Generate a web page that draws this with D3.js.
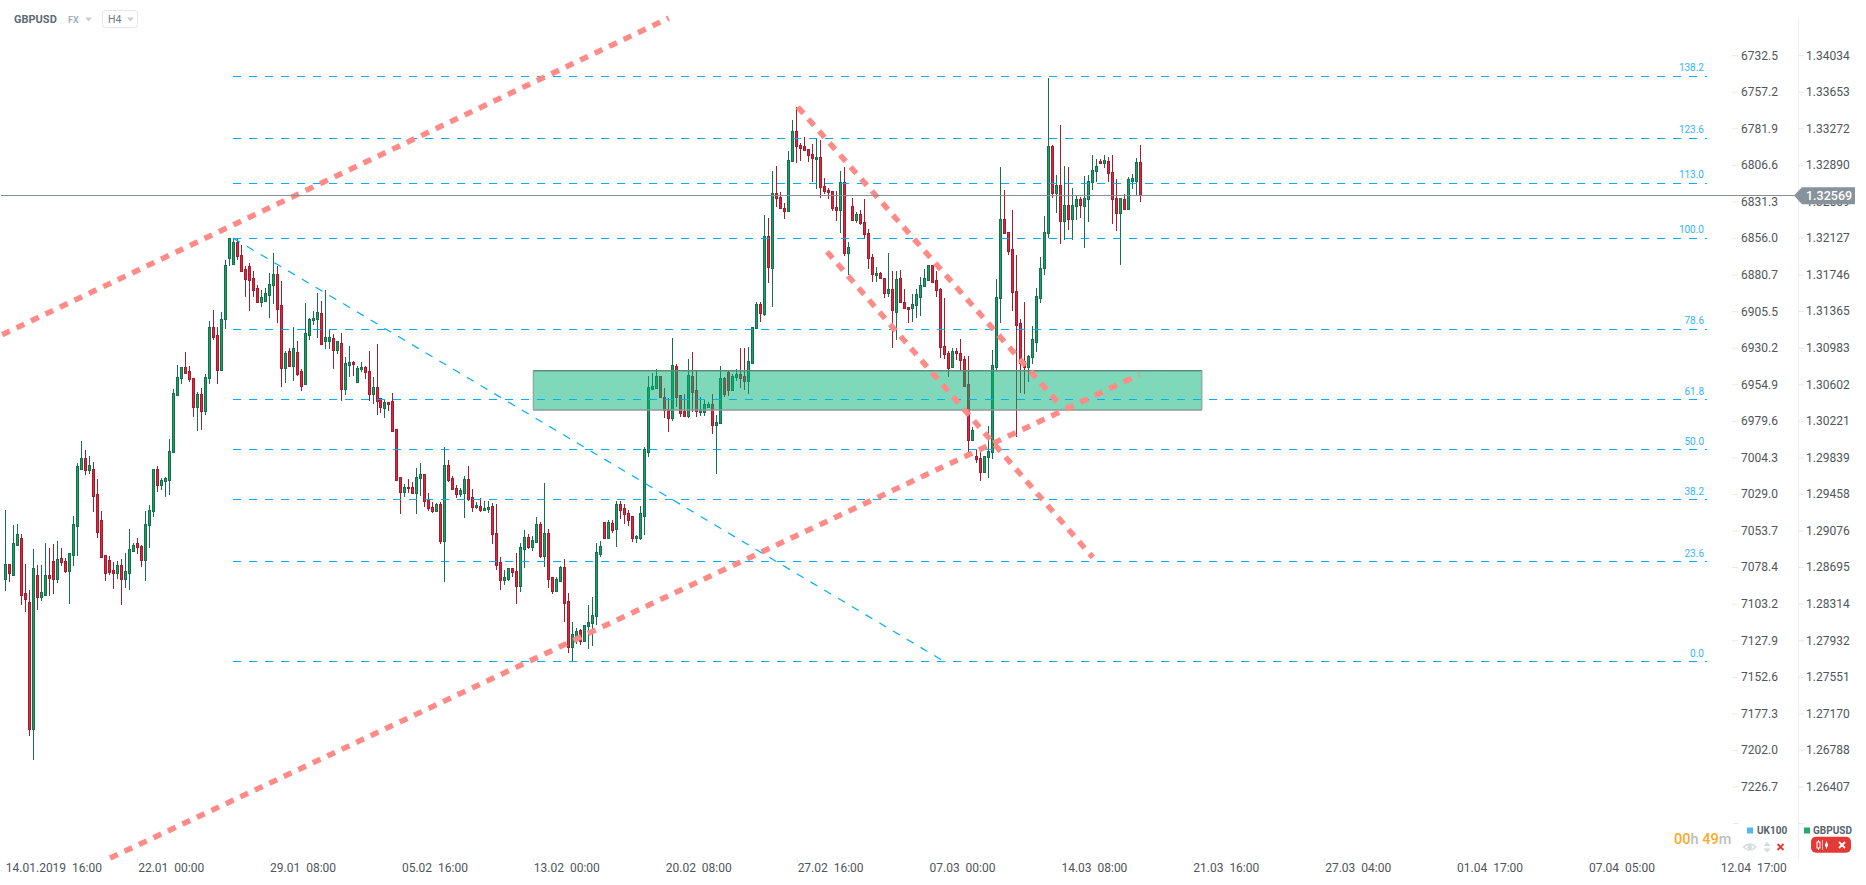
<!DOCTYPE html>
<html><head><meta charset="utf-8">
<script src="https://cdn.jsdelivr.net/npm/d3@7/dist/d3.min.js"></script>
<style>html,body{margin:0;padding:0;background:#fff;overflow:hidden}svg{display:block;font-family:Roboto,sans-serif}</style>
</head><body><svg id="c" width="1866" height="885"></svg>
<script>
// Prices in units of 0.0001 (13257 = 1.3257)
const opens=[12857,12872,12861,12892,12899,12842,12833,12700,12861,12838,12840,12861,12875,12857,12878,12875,12865,12882,12912,12971,12983,12970,12971,12945,12918,12882,12876,12866,12863,12871,12857,12863,12886,12894,12891,12876,12913,12927,12971,12955,12959,12960,12989,13049,13066,13078,13074,13066,13036,13050,13032,13066,13119,13111,13075,13128,13191,13185,13208,13195,13180,13183,13170,13160,13146,13147,13153,13163,13175,13142,13077,13094,13079,13093,13074,13060,13111,13127,13128,13134,13105,13105,13108,13095,13103,13055,13080,13083,13062,13076,13078,13074,13050,13057,13045,13035,13041,13042,13013,12963,12947,12953,12953,12946,12962,12966,12939,12932,12927,12935,12896,12976,12962,12952,12945,12946,12961,12942,12932,12933,12929,12930,12933,12905,12874,12856,12857,12868,12865,12849,12888,12900,12890,12895,12914,12881,12905,12859,12844,12855,12869,12834,12786,12796,12803,12792,12808,12811,12818,12883,12916,12899,12915,12909,12935,12931,12925,12922,12899,12899,12922,12989,13055,13056,13068,13046,13034,13025,13079,13049,13032,13027,13068,13054,13031,13031,13036,13039,13017,13019,13066,13072,13054,13067,13070,13068,13063,13082,13118,13143,13133,13214,13181,13259,13255,13244,13240,13293,13324,13309,13308,13305,13300,13295,13297,13266,13262,13261,13245,13241,13271,13197,13246,13231,13237,13229,13217,13192,13174,13176,13171,13155,13159,13135,13170,13146,13140,13139,13142,13151,13162,13168,13184,13168,13159,13100,13092,13078,13094,13092,13086,13060,13002,12985,12983,12968,12984,12989,13078,13150,13232,13219,13201,13157,13124,13084,13078,13088,13104,13150,13181,13217,13308,13259,13267,13230,13247,13232,13246,13253,13246,13253,13271,13282,13293,13290,13293,13281,13254,13238,13253,13242,13272,13272,13292];
const closes=[12872,12863,12894,12904,12840,12836,12700,12868,12838,12843,12861,12858,12857,12877,12874,12865,12884,12914,12974,12983,12970,12975,12943,12906,12880,12863,12864,12863,12871,12857,12865,12888,12892,12890,12876,12914,12929,12971,12955,12960,12962,12990,13051,13067,13078,13071,13065,13036,13050,13032,13067,13119,13109,13075,13128,13184,13212,13208,13193,13178,13169,13168,13158,13146,13151,13155,13164,13175,13138,13077,13092,13079,13097,13070,13058,13113,13128,13129,13135,13102,13109,13109,13095,13105,13055,13082,13083,13081,13077,13078,13072,13050,13057,13042,13036,13041,13039,13011,12960,12947,12953,12951,12946,12963,12966,12938,12931,12927,12935,12896,12976,12960,12950,12945,12949,12961,12940,12932,12934,12929,12931,12932,12903,12871,12856,12859,12868,12864,12849,12890,12900,12890,12897,12914,12881,12905,12857,12844,12857,12869,12832,12786,12799,12802,12792,12809,12812,12819,12885,12891,12899,12916,12908,12935,12929,12924,12918,12899,12901,12925,12992,13057,13058,13068,13046,13033,13025,13080,13046,13030,13027,13069,13052,13032,13034,13039,13039,13017,13020,13066,13050,13054,13068,13070,13066,13063,13084,13119,13143,13134,13214,13182,13259,13254,13243,13240,13294,13324,13308,13306,13304,13299,13296,13297,13265,13261,13260,13244,13241,13271,13197,13203,13231,13237,13228,13216,13191,13175,13176,13170,13155,13159,13137,13169,13145,13139,13138,13143,13154,13163,13170,13184,13166,13158,13099,13091,13077,13094,13092,13085,13058,13002,13012,12982,12968,12985,12990,13080,13151,13232,13217,13199,13156,13122,13082,13078,13089,13107,13152,13181,13218,13308,13259,13267,13230,13247,13232,13247,13253,13247,13254,13272,13283,13287,13290,13294,13280,13253,13238,13254,13242,13274,13275,13292,13257];
const highs=[12929,12872,12913,12914,12904,12872,12845,12888,12871,12871,12894,12889,12893,12896,12889,12878,12884,12922,12978,13000,12991,12985,12979,12961,12927,12882,12881,12874,12875,12877,12884,12909,12894,12899,12892,12927,12934,12971,12974,12962,12963,13003,13055,13080,13078,13093,13079,13066,13052,13056,13070,13126,13137,13119,13135,13189,13212,13212,13212,13205,13183,13186,13178,13163,13158,13160,13176,13197,13183,13167,13094,13097,13119,13105,13076,13144,13129,13136,13155,13147,13158,13116,13112,13105,13113,13088,13100,13084,13079,13083,13079,13094,13067,13102,13045,13043,13041,13051,13013,12963,12956,12961,12958,12972,12978,12966,12946,12937,12936,12937,12994,12981,12964,12955,12952,12964,12974,12950,12937,12941,12938,12938,12936,12935,12880,12866,12868,12868,12884,12894,12908,12903,12901,12921,12916,12957,12909,12859,12859,12870,12877,12842,12812,12806,12804,12809,12829,12838,12894,12896,12916,12918,12918,12938,12938,12935,12929,12922,12902,12933,12994,13068,13071,13076,13068,13056,13045,13108,13081,13049,13050,13086,13093,13075,13046,13043,13041,13050,13028,13079,13067,13075,13070,13076,13097,13097,13099,13119,13146,13146,13236,13233,13282,13287,13260,13249,13303,13335,13349,13311,13318,13305,13310,13317,13314,13275,13264,13261,13261,13282,13286,13208,13254,13239,13241,13253,13222,13196,13182,13177,13171,13197,13178,13178,13179,13159,13140,13154,13159,13172,13180,13184,13184,13178,13160,13150,13094,13097,13097,13107,13089,13089,13015,12992,12993,12985,13016,13095,13169,13286,13262,13219,13241,13195,13128,13145,13090,13120,13160,13192,13235,13379,13309,13278,13330,13287,13286,13264,13257,13255,13277,13278,13299,13295,13295,13299,13297,13299,13274,13254,13258,13276,13279,13296,13309];
const lows=[12844,12853,12861,12891,12829,12822,12693,12668,12824,12834,12840,12839,12841,12852,12870,12863,12831,12870,12881,12971,12965,12966,12926,12899,12880,12855,12861,12846,12857,12829,12847,12845,12886,12883,12869,12854,12889,12921,12947,12949,12942,12944,12989,13049,13060,13070,13062,13026,13011,13012,13028,13060,13106,13060,13074,13117,13183,13185,13189,13178,13151,13136,13151,13146,13140,13146,13129,13143,13124,13057,13061,13079,13063,13068,13053,13060,13106,13121,13108,13102,13096,13096,13076,13091,13042,13049,13067,13068,13062,13072,13065,13042,13039,13028,13030,13025,13032,13010,12959,12924,12942,12946,12945,12924,12943,12932,12927,12925,12926,12893,12853,12958,12949,12941,12942,12920,12938,12926,12930,12926,12928,12925,12893,12866,12845,12850,12854,12859,12831,12843,12868,12888,12886,12895,12879,12869,12847,12841,12844,12855,12812,12779,12771,12789,12788,12791,12784,12787,12809,12880,12899,12899,12905,12890,12919,12914,12912,12895,12894,12897,12902,12984,13055,13056,13046,13025,13010,13021,13036,13026,13026,13025,13031,13026,13027,13027,13036,13008,12966,13018,13046,13047,13054,13063,13056,13054,13050,13082,13117,13125,13131,13165,13140,13245,13243,13232,13240,13293,13290,13293,13304,13291,13271,13263,13254,13258,13253,13240,13230,13217,13193,13174,13231,13228,13226,13212,13180,13166,13166,13170,13150,13151,13097,13106,13145,13139,13124,13125,13129,13131,13162,13168,13166,13151,13087,13086,13067,13078,13085,13074,13058,12989,13002,12978,12959,12968,12962,12982,13074,13124,13217,13195,13136,13005,13051,13050,13062,13081,13093,13144,13174,13212,13254,13238,13206,13210,13221,13210,13231,13233,13202,13229,13262,13271,13290,13285,13271,13227,13220,13184,13241,13242,13263,13256,13250];

const leftTicks=[6732.5,6757.2,6781.9,6806.6,6831.3,6856.0,6880.7,6905.5,6930.2,6954.9,6979.6,7004.3,7029.0,7053.7,7078.4,7103.2,7127.9,7152.6,7177.3,7202.0,7226.7];
const rightTicks=[1.34034,1.33653,1.33272,1.32890,1.32509,1.32127,1.31746,1.31365,1.30983,1.30602,1.30221,1.29839,1.29458,1.29076,1.28695,1.28314,1.27932,1.27551,1.27170,1.26788,1.26407];
const timeLabels=["14.01.2019  16:00","22.01  00:00","29.01  08:00","05.02  16:00","13.02  00:00","20.02  08:00","27.02  16:00","07.03  00:00","14.03  08:00","21.03  16:00","27.03  04:00","01.04  17:00","07.04  05:00","12.04  17:00"];
const timeIdx=[0,33,66,99,132,165,198,231,264,297,330,363,396,429];
const fibLabels=["0.0","23.6","38.2","50.0","61.8","78.6","100.0","113.0","123.6","138.2"];
const fibPrices=[1.27704,1.28746,1.29392,1.29913,1.30434,1.31173,1.32121,1.32694,1.33163,1.33809];
const lastPrice=1.32569;
const zoneIdx=[132.1,299.4];
const zonePrice=[1.30739,1.30329];
// trend lines as [candle index, price]
const thickLines=[
  [[-0.8,1.31114],[166,1.34416]],
  [[26.2,1.25655],[283.7,1.30697]],
  [[198.3,1.33489],[263.4,1.30405]],
  [[205.6,1.31979],[272.1,1.28791]]
];
const fibDiagonal=[[57,1.32121],[235,1.27704]];

const svg=d3.select("#c");
const x=d3.scaleLinear().domain([0,284]).range([5.33,1140.33]);
const y=d3.scaleLinear().domain([1.34034,1.26407]).range([54.7,786]);
const yL=d3.scaleLinear().domain([6732.5,7226.7]).range([54.7,786]);
const yP=v=>y(v/1e4);
const candles=d3.range(opens.length).map(i=>({i,o:opens[i],h:highs[i],l:lows[i],c:closes[i]}));
const GD="#176f4e",GF="#1a9f63",RD="#a31d2e",RF="#e2233c",BLUE="#00aeff",SALMON="#ff8b88",TXT="#4f5659";

// right-axis separator
svg.append("line").attr("x1",1798.5).attr("x2",1798.5).attr("y1",18).attr("y2",859).attr("stroke","#eeeeee");

// candles
const cg=svg.append("g").attr("shape-rendering","crispEdges");
const snap=v=>Math.round(v)+0.5;
cg.selectAll("line").data(candles).join("line")
  .attr("x1",d=>Math.floor(x(d.i))+0.5).attr("x2",d=>Math.floor(x(d.i))+0.5)
  .attr("y1",d=>Math.round(yP(d.h))).attr("y2",d=>Math.round(yP(d.l)))
  .attr("stroke",d=>d.c>=d.o?GD:RD);
cg.selectAll("rect").data(candles).join("rect")
  .attr("x",d=>Math.floor(x(d.i))-0.5).attr("width",2)
  .attr("y",d=>snap(yP(Math.max(d.o,d.c))))
  .attr("height",d=>Math.max(1,Math.round(yP(Math.min(d.o,d.c)))-Math.round(yP(Math.max(d.o,d.c)))))
  .attr("fill",d=>d.c>=d.o?GF:RF).attr("stroke",d=>d.c>=d.o?GD:RD);

// zone
svg.append("rect").attr("x",x(zoneIdx[0])).attr("width",x(zoneIdx[1])-x(zoneIdx[0]))
  .attr("y",y(zonePrice[0])).attr("height",y(zonePrice[1])-y(zonePrice[0]))
  .attr("fill","rgb(0,177,115)").attr("fill-opacity",0.5);
svg.append("line").attr("x1",x(zoneIdx[0])).attr("x2",x(zoneIdx[1])).attr("y1",y(zonePrice[0])).attr("y2",y(zonePrice[0])).attr("stroke","#5f8d7b").attr("stroke-width",1.5);
svg.append("line").attr("x1",x(zoneIdx[0])).attr("x2",x(zoneIdx[1])).attr("y1",y(zonePrice[1])).attr("y2",y(zonePrice[1])).attr("stroke","#8d9a95").attr("stroke-width",1.5);
svg.append("line").attr("x1",x(zoneIdx[0])).attr("x2",x(zoneIdx[0])).attr("y1",y(zonePrice[0])).attr("y2",y(zonePrice[1])).attr("stroke","#7d9a8f").attr("stroke-width",1);
svg.append("line").attr("x1",x(zoneIdx[1])).attr("x2",x(zoneIdx[1])).attr("y1",y(zonePrice[0])).attr("y2",y(zonePrice[1])).attr("stroke","#7d9a8f").attr("stroke-width",1);

// fib levels
const fg=svg.append("g");
fg.selectAll("line").data(fibPrices).join("line")
  .attr("x1",233).attr("x2",1707).attr("y1",d=>Math.floor(y(d))+.5).attr("y2",d=>Math.floor(y(d))+.5)
  .attr("stroke",BLUE).attr("stroke-dasharray","8 8").attr("shape-rendering","crispEdges");
fg.selectAll("text").data(fibLabels).join("text")
  .attr("x",1704).attr("y",(d,i)=>y(fibPrices[i])-5).attr("text-anchor","end")
  .attr("font-size",10).attr("fill","#33b5f5").text(d=>d);

const line=d3.line().x(d=>x(d[0])).y(d=>y(d[1]));
svg.append("path").attr("d",line(fibDiagonal)).attr("fill","none").attr("stroke",BLUE).attr("stroke-width",1.2).attr("stroke-dasharray","8 8");
svg.selectAll("path.t").data(thickLines).join("path").attr("class","t").attr("d",line)
  .attr("fill","none").attr("stroke",SALMON).attr("stroke-width",5.5).attr("stroke-dasharray","8.5 7.5");

// axes
function styleAxis(g,size){
  g.select(".domain").remove();
  g.selectAll(".tick line").attr("stroke","#e8e8e8");
  g.selectAll(".tick text").attr("fill",TXT).attr("font-size",size).attr("font-family","Roboto,sans-serif");
}
const axL=d3.axisRight(yL).tickValues(leftTicks).tickSize(6).tickPadding(3).tickFormat(d3.format(".1f"));
svg.append("g").attr("transform","translate(1732,0.5)").call(axL).call(styleAxis,12);
const axR=d3.axisRight(y).tickValues(rightTicks).tickSize(6).tickPadding(2).tickFormat(d3.format(".5f"));
svg.append("g").attr("transform","translate(1798,0.5)").call(axR).call(styleAxis,12);
// unlabelled last tick marks
[1732.5,1798.5].forEach(px=>svg.append("line").attr("x1",px).attr("x2",px+6).attr("y1",823.5).attr("y2",823.5).attr("stroke","#e8e8e8"));

// time axis
const tg=svg.append("g");
timeLabels.forEach((t,k)=>{
  const px=x(timeIdx[k]);
  if(k>0)tg.append("line").attr("x1",Math.round(px)+.5).attr("x2",Math.round(px)+.5).attr("y1",859).attr("y2",863).attr("stroke","#eeeeee");
  tg.append("text").attr("x",px+(k==0?0.5:1)).attr("y",872).attr("font-size",12).attr("fill",TXT).attr("xml:space","preserve").style("white-space","pre").text(t);
});

// current price
const ly=Math.floor(y(lastPrice))+.5;
svg.append("line").attr("x1",1).attr("x2",1795).attr("y1",ly).attr("y2",ly).attr("stroke","#878f92").attr("stroke-width",1);
svg.append("path").attr("d",`M1794 ${ly}L1802 ${ly-8.3}H1855V${ly+8.7}H1802Z`).attr("fill","#87929a");
svg.append("text").attr("x",1806).attr("y",ly+4.4).attr("font-size",12.5).attr("font-weight",500).attr("fill","#fff").text(lastPrice.toFixed(5));

// header
svg.append("text").attr("x",14).attr("y",23).attr("font-size",11).attr("font-weight",700).attr("fill","#5d6a72").text("GBPUSD");
svg.append("text").attr("x",68).attr("y",22.5).attr("font-size",9).attr("font-weight",700).attr("fill","#a2b2bb").text("FX");
svg.append("path").attr("d","M85 17.5h7l-3.5 4z").attr("fill","#c9ced1");
svg.append("rect").attr("x",102.5).attr("y",10.5).attr("width",35).attr("height",17).attr("rx",3).attr("fill","#fff").attr("stroke","#e6e6e6");
svg.append("text").attr("x",108).attr("y",23).attr("font-size",10.5).attr("fill","#6f7b82").text("H4");
svg.append("path").attr("d","M127 17.5h7l-3.5 4z").attr("fill","#c9ced1");

// legend & timer
const tm=svg.append("text").attr("x",1674).attr("y",844).attr("font-size",14.5).attr("font-weight",500);
[["00","#ffa726"],["h ","#bdbdbd"],["49","#ffa726"],["m","#bdbdbd"]].forEach(([s,c])=>tm.append("tspan").attr("fill",c).attr("xml:space","preserve").style("white-space","pre").text(s));
svg.append("rect").attr("x",1747).attr("y",827.5).attr("width",6).attr("height",6).attr("fill","#4fb9f0");
svg.append("text").attr("x",1757).attr("y",833.5).attr("font-size",10).attr("font-weight",700).attr("fill","#56626a").text("UK100");
svg.append("rect").attr("x",1804).attr("y",827.5).attr("width",6).attr("height",6).attr("fill","#26a96c");
svg.append("text").attr("x",1813).attr("y",833.5).attr("font-size",10).attr("font-weight",700).attr("fill","#56626a").text("GBPUSD");
// eye
svg.append("path").attr("d","M1743.5 847q6.2-6 12.5 0q-6.3 6-12.5 0z").attr("fill","none").attr("stroke","#d3dadd").attr("stroke-width",1.2);
svg.append("circle").attr("cx",1749.7).attr("cy",847).attr("r",2.3).attr("fill","#d3dadd");
// up/down
svg.append("path").attr("d","M1767 842l3.7 4h-7.4zM1767 852.5l3.7-4h-7.4z").attr("fill","#d3dadd");
// red x
svg.append("path").attr("d","M1777.5 844l6 6M1783.5 844l-6 6").attr("stroke","#e53935").attr("stroke-width",1.8);
// red button
svg.append("rect").attr("x",1811).attr("y",836.7).attr("width",40).attr("height",16).attr("rx",5).attr("fill","#e53935");
svg.append("path").attr("d","M1818.5 840v10M1826.5 841.5v7").attr("stroke","#fff").attr("stroke-width",1);
svg.append("rect").attr("x",1817).attr("y",842).attr("width",3).attr("height",6).attr("fill","#e53935").attr("stroke","#fff");
svg.append("rect").attr("x",1825).attr("y",843.5).attr("width",3).attr("height",3).attr("fill","#fff");
svg.append("line").attr("x1",1822.5).attr("x2",1822.5).attr("y1",840).attr("y2",850).attr("stroke","#f7b5b3");
svg.append("path").attr("d","M1839 842l6 6M1845 842l-6 6").attr("stroke","#fff").attr("stroke-width",1.8);
</script></body></html>
